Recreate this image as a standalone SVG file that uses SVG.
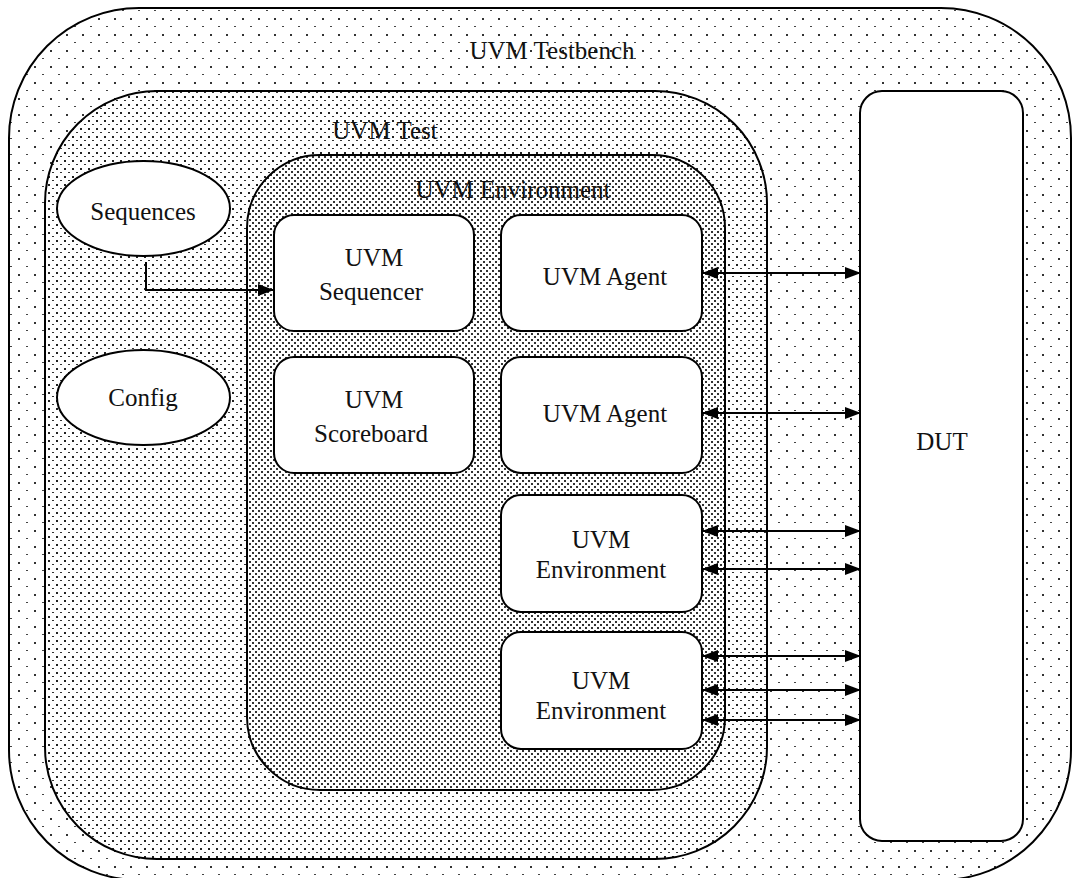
<svg xmlns="http://www.w3.org/2000/svg" width="1072" height="878" viewBox="0 0 1072 878">
<defs>
<pattern id="pTB" width="16" height="16" patternUnits="userSpaceOnUse" x="2" y="2">
<rect width="16" height="16" fill="#fff"/>
<rect x="0" y="0" width="2" height="2" fill="#333"/>
<rect x="8" y="8" width="2" height="1" fill="#444"/>
</pattern>
<pattern id="pTest" width="8" height="8" patternUnits="userSpaceOnUse">
<rect width="8" height="8" fill="#fff"/>
<rect x="0" y="0" width="2" height="2" fill="#222"/>
<rect x="4" y="4" width="2" height="1" fill="#333"/>
</pattern>
<pattern id="pEnv" width="6" height="6" patternUnits="userSpaceOnUse">
<rect width="6" height="6" fill="#fff"/>
<rect x="0" y="0" width="2" height="2" fill="#333"/>
<rect x="3" y="3" width="2" height="2" fill="#333"/>
</pattern>
<marker id="ah" markerWidth="16" markerHeight="12" refX="15" refY="6" orient="auto-start-reverse" markerUnits="userSpaceOnUse">
<path d="M0,0 L16,6 L0,12 Z" fill="#000"/>
</marker>
</defs>
<style>
.c{stroke:#000;stroke-width:2;}
.b{fill:#fff;stroke:#000;stroke-width:2;}
.t{font-family:"Liberation Serif","Times New Roman",serif;font-size:25px;fill:#111;text-anchor:middle;}
.l{fill:none;stroke:#000;stroke-width:2;}
</style>
<g id="testbench">
<rect class="c" x="9" y="8" width="1062" height="872" rx="130" ry="130" fill="url(#pTB)"/>
<text class="t" x="552" y="59">UVM Testbench</text>
</g>
<g id="test">
<rect class="c" x="45" y="91" width="722" height="768" rx="112" ry="112" fill="url(#pTest)"/>
<text class="t" x="385" y="139">UVM Test</text>
</g>
<g id="environment">
<rect class="c" x="247" y="155" width="478" height="635" rx="73" ry="73" fill="url(#pEnv)"/>
<text class="t" x="513" y="198">UVM Environment</text>
</g>
<g id="sequences">
<ellipse class="b" cx="143.5" cy="208.5" rx="86.5" ry="47.5"/>
<text class="t" x="143" y="220">Sequences</text>
</g>
<g id="config">
<ellipse class="b" cx="143.5" cy="397.5" rx="86.5" ry="47.5"/>
<text class="t" x="143" y="406">Config</text>
</g>
<g id="sequencer">
<rect class="b" x="274" y="215" width="200" height="116" rx="20"/>
<text class="t" x="374" y="266">UVM</text>
<text class="t" x="371" y="300">Sequencer</text>
</g>
<g id="agent1">
<rect class="b" x="501" y="215" width="201" height="116" rx="20"/>
<text class="t" x="605" y="285">UVM Agent</text>
</g>
<g id="scoreboard">
<rect class="b" x="274" y="357" width="200" height="116" rx="20"/>
<text class="t" x="374" y="408">UVM</text>
<text class="t" x="371" y="442">Scoreboard</text>
</g>
<g id="agent2">
<rect class="b" x="501" y="357" width="201" height="116" rx="20"/>
<text class="t" x="605" y="422">UVM Agent</text>
</g>
<g id="env3">
<rect class="b" x="501" y="495" width="201" height="117" rx="20"/>
<text class="t" x="601" y="548">UVM</text>
<text class="t" x="601" y="578">Environment</text>
</g>
<g id="env4">
<rect class="b" x="501" y="632" width="201" height="117" rx="20"/>
<text class="t" x="601" y="689">UVM</text>
<text class="t" x="601" y="719">Environment</text>
</g>
<g id="dut">
<rect class="b" x="860" y="91" width="163" height="750" rx="22"/>
<text class="t" x="942" y="450">DUT</text>
</g>
<g id="connectors">
<path class="l" d="M146,262 V290 H273" marker-end="url(#ah)"/>
<line class="l" x1="703" y1="273" x2="860" y2="273" marker-start="url(#ah)" marker-end="url(#ah)"/>
<line class="l" x1="703" y1="413" x2="860" y2="413" marker-start="url(#ah)" marker-end="url(#ah)"/>
<line class="l" x1="703" y1="531" x2="860" y2="531" marker-start="url(#ah)" marker-end="url(#ah)"/>
<line class="l" x1="703" y1="569" x2="860" y2="569" marker-start="url(#ah)" marker-end="url(#ah)"/>
<line class="l" x1="703" y1="656" x2="860" y2="656" marker-start="url(#ah)" marker-end="url(#ah)"/>
<line class="l" x1="703" y1="690" x2="860" y2="690" marker-start="url(#ah)" marker-end="url(#ah)"/>
<line class="l" x1="703" y1="720" x2="860" y2="720" marker-start="url(#ah)" marker-end="url(#ah)"/>
</g>
</svg>
